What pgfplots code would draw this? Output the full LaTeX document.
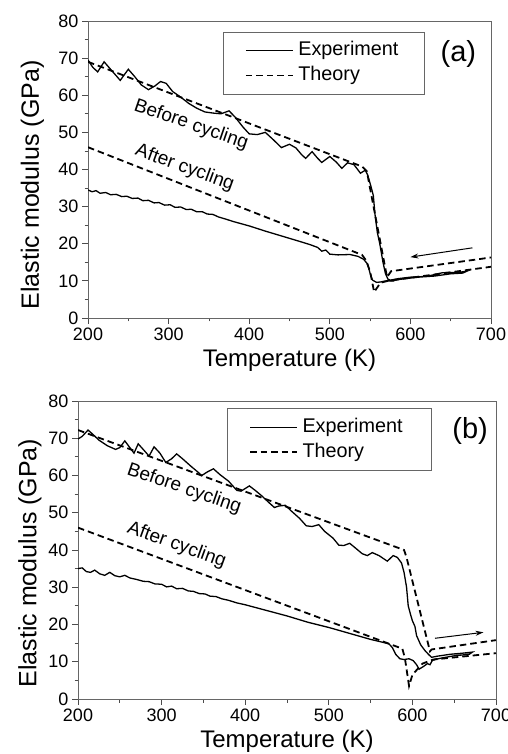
\documentclass[border=0pt]{standalone}
\usepackage{pgfplots}
\pgfplotsset{compat=1.18}
\usepackage{fontspec}
\setmainfont{Liberation Sans}
\usetikzlibrary{arrows.meta}

\pgfplotsset{
  myaxis/.style={
    scale only axis,
    xmin=200, xmax=700, ymin=0, ymax=80,
    xtick={200,300,...,700}, ytick={0,10,...,80},
    minor x tick num=1, minor y tick num=1,
    tick align=outside, xtick pos=bottom, ytick pos=left,
    major tick length=6pt, minor tick length=3.5pt,
    axis line style={black!60, line width=0.9pt},
    every tick/.style={black!70, line width=0.8pt},
    tick label style={font=\fontsize{18}{20}\selectfont},
    /pgf/number format/assume math mode=true,
    xlabel={Temperature (K)}, ylabel={Elastic modulus (GPa)},
    xlabel style={font=\fontsize{24}{26}\selectfont, anchor=center},
    ylabel style={font=\fontsize{25}{27}\selectfont, anchor=center, rotate=0},
    legend cell align=left,
    legend image code/.code={\draw[#1] (0pt,0pt) -- (47pt,0pt);},
    legend style={draw=black!60, line width=0.8pt, anchor=north west,
      font=\fontsize{19.8}{22}\selectfont, inner xsep=22pt, inner ysep=6.5pt,
      row sep=1pt, column sep=0pt,
      nodes={inner xsep=1.5pt, inner ysep=3pt, text height=14pt, text depth=4pt}},
  },
  exp/.style={black, line width=1.3pt},
  theo/.style={black, line width=1.8pt, dash pattern=on 6.5pt off 4pt},
}

\begin{document}
\begin{tikzpicture}[x=1pt,y=1pt]
\useasboundingbox (0,0) rectangle (507,754);

% ---------------- (a) ----------------
\begin{axis}[myaxis, at={(88pt,436pt)}, anchor=south west,
  width=403pt, height=297pt,
  xlabel style={at={(axis description cs:0.5,-0.141)}},
  ylabel style={at={(axis description cs:-0.138,0.448)}},
  legend style={at={(axis description cs:0.334,0.964)}}]
\addplot[exp] coordinates {
(200,69.5)(206,67.5)(212,66.3)(220,69.0)(230,66.5)(240,64.0)(250,67.0)(258,65.0)
(266,62.8)(275,61.5)(283,62.5)(290,63.7)(297,63.2)(305,61.0)(315,59.5)(325,57.8)
(335,56.5)(345,55.5)(355,55.2)(365,55.0)(375,55.8)(383,54.0)(392,51.5)(400,49.6)
(410,49.4)(420,50.0)(430,48.0)(440,45.9)(450,46.8)(458,45.8)(465,44.0)(470,43.0)
(478,44.8)(485,43.0)(490,41.9)(500,43.5)(508,42.0)(515,40.3)(522,41.8)(530,41.3)
(538,39.0)(544,39.8)(547,38.5)(551,35.5)(554,33.0)(556,28.0)(559,23.0)(562,20.0)
(566,15.0)(569,12.0)(572,10.5)(575,10.2)(585,10.6)(600,11.0)(620,11.2)(640,12.2)
(660,12.3)(670,12.6)(665,12.1)(650,11.9)(630,11.3)(610,11.0)(590,10.5)(575,10.0)
};
\addlegendentry{\hspace*{3pt}Experiment\hspace*{2pt}}
\addplot[theo] coordinates {
(200,69.0)(540,40.8)(546,39.5)(549,36.0)(571,11.0)(576,12.6)(700,16.3)
};
\addlegendentry{\hspace*{3pt}Theory}
\addplot[exp, forget plot] coordinates {
(200,34.5)(205,34.0)(210,34.3)(215,33.6)(222,33.8)(228,33.2)(235,33.3)(242,32.7)
(248,32.8)(255,32.2)(262,32.3)(268,31.6)(275,31.7)(282,31.0)(288,31.1)(295,30.4)
(302,30.5)(308,29.8)(315,29.9)(322,29.2)(328,29.3)(335,28.6)(342,28.6)(348,28.0)
(355,27.9)(362,27.2)(370,26.7)(380,26.0)(390,25.4)(400,24.8)(420,23.4)(440,22.1)
(460,20.8)(475,19.8)(485,19.0)(490,18.0)(495,18.3)(500,17.2)(510,17.0)(525,17.1)
(535,16.6)(542,15.8)(547,14.5)(550,12.0)(553,10.2)(558,9.6)(563,9.7)(570,10.0)(580,10.0)
};
\addplot[theo, forget plot] coordinates {
(200,46.0)(540,17.0)(545,15.5)(550,12.5)(555,7.0)(563,9.5)(572,10.0)(700,13.8)
};
\addplot[black, line width=1pt, -{Stealth[length=8pt,width=5pt]}, forget plot]
  coordinates {(677,18.9)(600,16.4)};
\node[rotate=-19, font=\fontsize{19}{21}\selectfont] at (axis cs:328,52) {Before cycling};
\node[rotate=-20, font=\fontsize{19}{21}\selectfont] at (axis cs:320,40.4) {After cycling};
\node[font=\fontsize{29}{31}\selectfont] at (axis description cs:0.919,0.89) {(a)};
\end{axis}

% ---------------- (b) ----------------
\begin{axis}[myaxis, at={(78pt,55pt)}, anchor=south west,
  width=418pt, height=298pt,
  xlabel style={at={(axis description cs:0.5,-0.143)}},
  ylabel style={at={(axis description cs:-0.115,0.456)}},
  legend style={at={(axis description cs:0.356,0.975)}}]
\addplot[exp] coordinates {
(200,69.8)(205,70.5)(212,72.2)(218,71.0)(225,69.5)(235,68.0)(245,67.0)(250,67.5)
(256,69.3)(262,67.5)(267,66.0)(272,68.5)(280,66.5)(285,65.2)(291,67.7)(298,66.0)
(305,63.5)(312,64.5)(318,65.8)(325,64.5)(335,62.5)(343,61.0)(348,60.0)(355,61.0)
(362,61.8)(370,60.2)(380,58.5)(390,56.0)(395,55.8)(400,56.5)(405,57.2)(412,56.0)
(420,54.5)(428,52.8)(435,51.4)(440,51.8)(448,52.0)(455,50.5)(465,48.5)(473,46.5)
(480,46.3)(488,46.8)(495,45.0)(505,43.2)(512,41.3)(518,41.2)(525,41.8)(532,40.5)
(540,39.0)(546,38.5)(552,39.3)(560,38.5)(570,37.0)(577,38.5)(582,38.0)(587,36.5)
(590,34.0)(593,30.0)(595,25.0)(598,22.5)(600,21.0)(603,19.5)(605,17.0)(610,14.5)
(615,13.0)(620,11.8)(623,11.2)(630,11.5)(645,12.0)(660,12.3)(672,12.6)(668,12.0)
(650,11.6)(635,11.0)(625,10.5)
};
\addlegendentry{\hspace*{3pt}Experiment\hspace*{5pt}}
\addplot[theo] coordinates {
(200,72.2)(590,40.0)(593,38.0)(621,12.8)(623,13.3)(700,15.8)
};
\addlegendentry{\hspace*{3pt}Theory}
\addplot[exp, forget plot] coordinates {
(200,35.0)(205,35.2)(210,34.2)(215,34.0)(220,34.6)(226,33.6)(232,33.2)(238,34.0)
(244,33.1)(250,32.8)(256,33.2)(262,32.5)(270,32.1)(278,31.6)(285,31.5)(292,30.9)
(300,30.8)(306,30.1)(312,30.3)(318,29.6)(325,29.7)(332,29.0)(338,28.9)(345,28.3)
(352,28.2)(358,27.6)(365,27.5)(372,26.9)(380,26.5)(390,25.8)(400,25.3)(425,23.8)
(450,22.3)(475,20.6)(500,19.2)(525,17.6)(550,16.0)(565,15.2)(572,14.8)(576,13.8)
(580,12.0)(585,10.8)(590,10.6)(596,10.8)(601,10.3)(605,9.2)(608,8.0)(613,8.7)
(618,9.5)(621,9.2)(624,10.4)(630,10.8)
};
\addplot[theo, forget plot] coordinates {
(200,46.0)(588,13.5)(591,11.0)(596,3.5)(600,6.5)(612,9.5)(625,10.6)(700,12.3)
};
\addplot[black, line width=1pt, -{Stealth[length=8pt,width=5pt]}, forget plot]
  coordinates {(627,16.3)(685,17.9)};
\node[rotate=-19, font=\fontsize{19}{21}\selectfont] at (axis cs:327,56.4) {Before cycling};
\node[rotate=-20, font=\fontsize{19}{21}\selectfont] at (axis cs:318,41.3) {After cycling};
\node[font=\fontsize{29}{31}\selectfont] at (axis description cs:0.938,0.899) {(b)};
\end{axis}
\end{tikzpicture}
\end{document}
